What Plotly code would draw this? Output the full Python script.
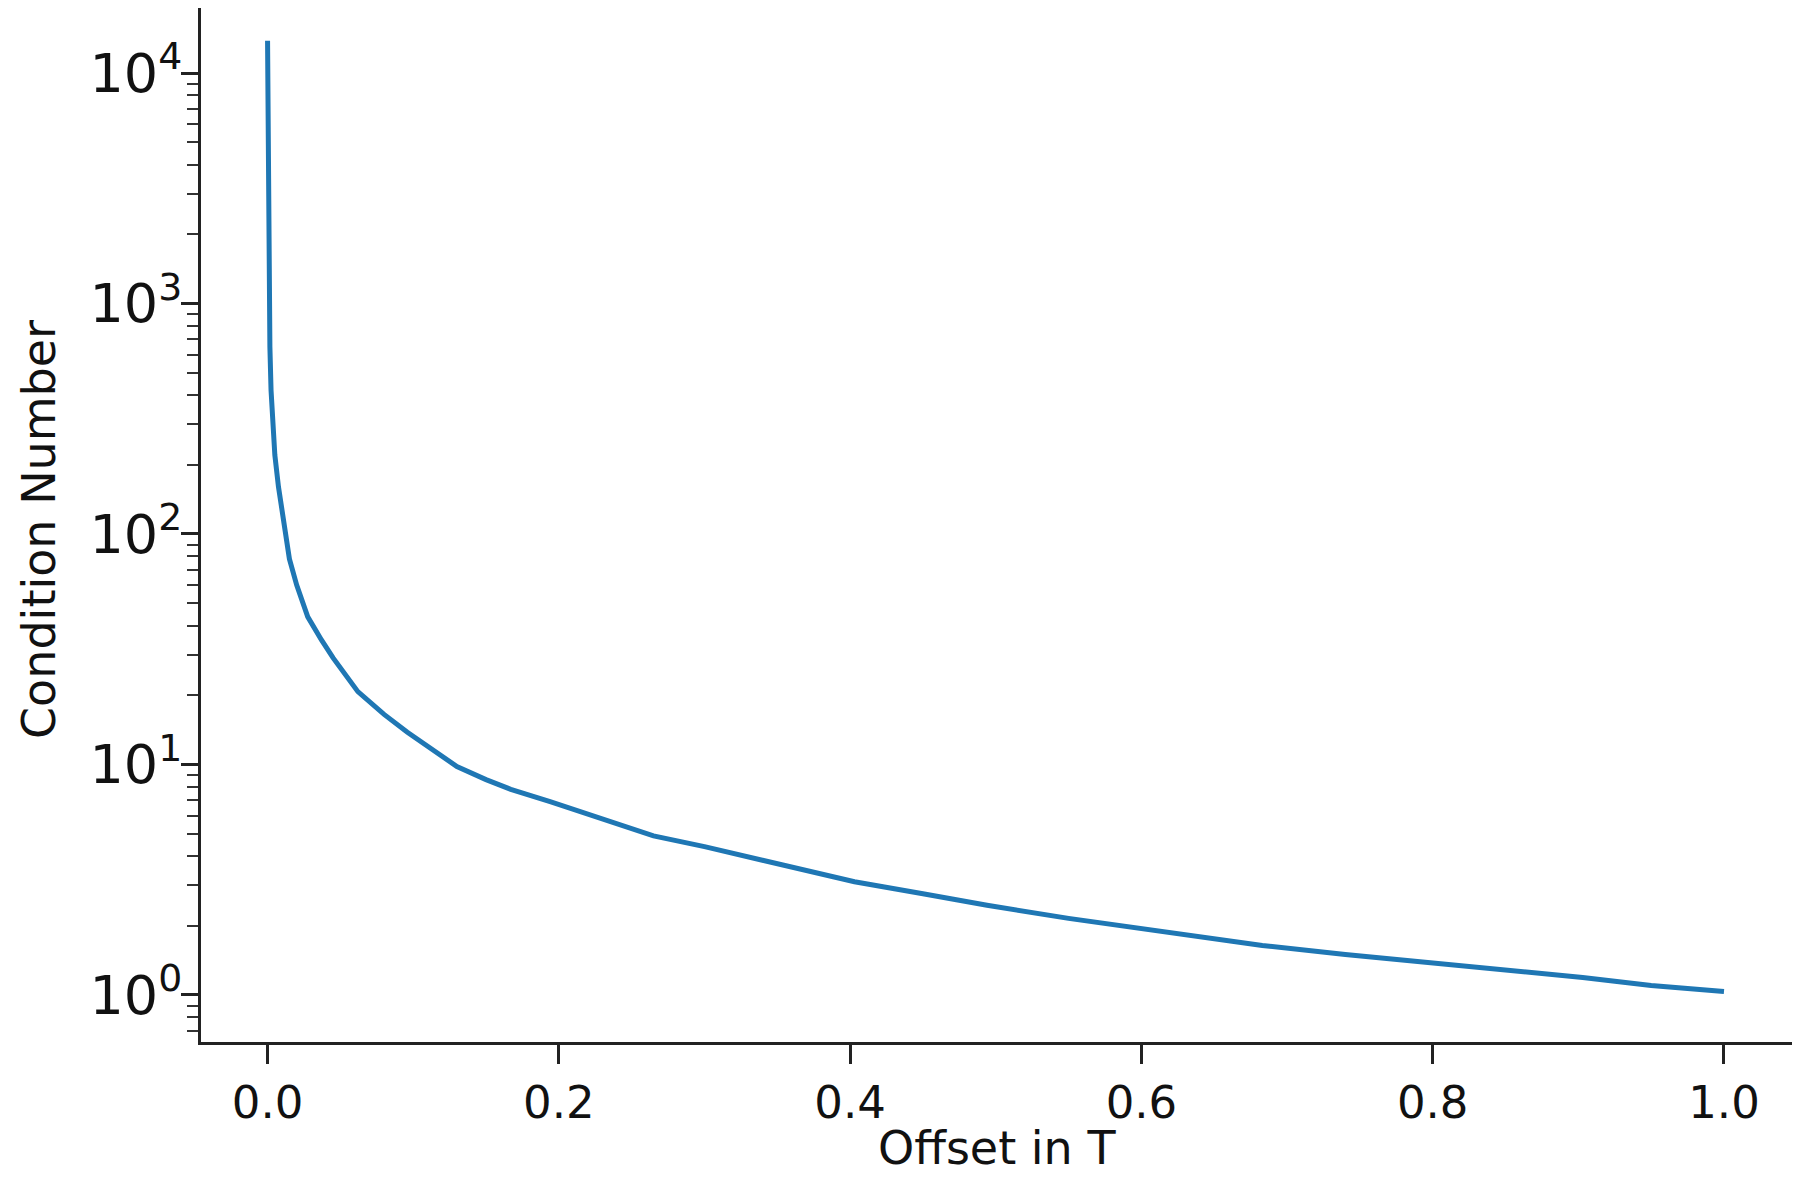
import plotly.graph_objects as go

offset = [0.0, 0.0003, 0.0006, 0.001, 0.0016, 0.0024, 0.0035, 0.005, 0.0075, 0.0100,
          0.0118, 0.015, 0.02, 0.0276, 0.037, 0.045, 0.062, 0.08, 0.096, 0.11,
          0.13, 0.15, 0.167, 0.194, 0.23, 0.265, 0.3, 0.35, 0.403, 0.45,
          0.494, 0.55, 0.596, 0.64, 0.683, 0.74, 0.80, 0.85, 0.903, 0.95, 1.0]
condition = [13800, 5000, 2200, 1000, 650, 420, 300, 220, 160, 125,
             100, 78, 60, 43.7, 34.7, 29, 20.7, 16.5, 13.8, 12,
             9.8, 8.6, 7.8, 6.9, 5.8, 4.9, 4.4, 3.7, 3.1, 2.75,
             2.45, 2.15, 1.95, 1.78, 1.64, 1.5, 1.38, 1.28, 1.19, 1.1, 1.035]

x_ticks = [0.0, 0.2, 0.4, 0.6, 0.8, 1.0]
x_tick_labels = ["0.0", "0.2", "0.4", "0.6", "0.8", "1.0"]
y_ticks = [1, 10, 100, 1000, 10000]
y_tick_labels = ["10<sup>0</sup>", "10<sup>1</sup>", "10<sup>2</sup>", "10<sup>3</sup>", "10<sup>4</sup>"]
x_title = "Offset in T"
y_title = "Condition Number"

FONT = "DejaVu Sans"
TXT = "#111111"

fig = go.Figure()
fig.add_trace(go.Scatter(x=offset, y=condition, mode="lines",
                         line=dict(color="#1f77b4", width=5), showlegend=False))

fig.update_layout(
    width=1784, height=1170,
    margin=dict(l=193, r=0, t=0, b=136),
    paper_bgcolor="white", plot_bgcolor="white",
    font=dict(family=FONT, size=45, color=TXT),
)
fig.update_xaxes(
    range=[-0.0457, 1.0467], automargin=False,
    tickvals=x_ticks, ticktext=x_tick_labels,
    showgrid=False, zeroline=False,
    showline=True, mirror=True, linecolor="#222", linewidth=3,
    ticks="outside", ticklen=19, tickwidth=3, tickcolor="#222",
    tickfont=dict(family=FONT, size=45, color=TXT),
)
fig.update_yaxes(
    type="log", range=[-0.204, 4.282], automargin=False,
    tickvals=y_ticks, ticktext=y_tick_labels,
    showgrid=False, zeroline=False,
    showline=True, mirror=True, linecolor="#222", linewidth=3,
    ticks="outside", ticklen=17, tickwidth=3, tickcolor="#222",
    tickfont=dict(family=FONT, size=54, color=TXT),
    ticklabelstandoff=-12,
    minor=dict(ticks="outside", ticklen=11, tickwidth=1.5, tickcolor="#333", dtick="D1", showgrid=False),
)
fig.add_annotation(
    text=x_title, xref="paper", yref="paper", x=0.5, y=0,
    xanchor="center", yanchor="middle", yshift=-106, showarrow=False,
    font=dict(family=FONT, size=46, color=TXT),
)
fig.add_annotation(
    text=y_title, xref="paper", yref="paper", x=0, y=0.5,
    xanchor="center", yanchor="middle", xshift=-162, yshift=-5, textangle=-90,
    showarrow=False, font=dict(family=FONT, size=46, color=TXT),
)

fig.write_html("out.html")
